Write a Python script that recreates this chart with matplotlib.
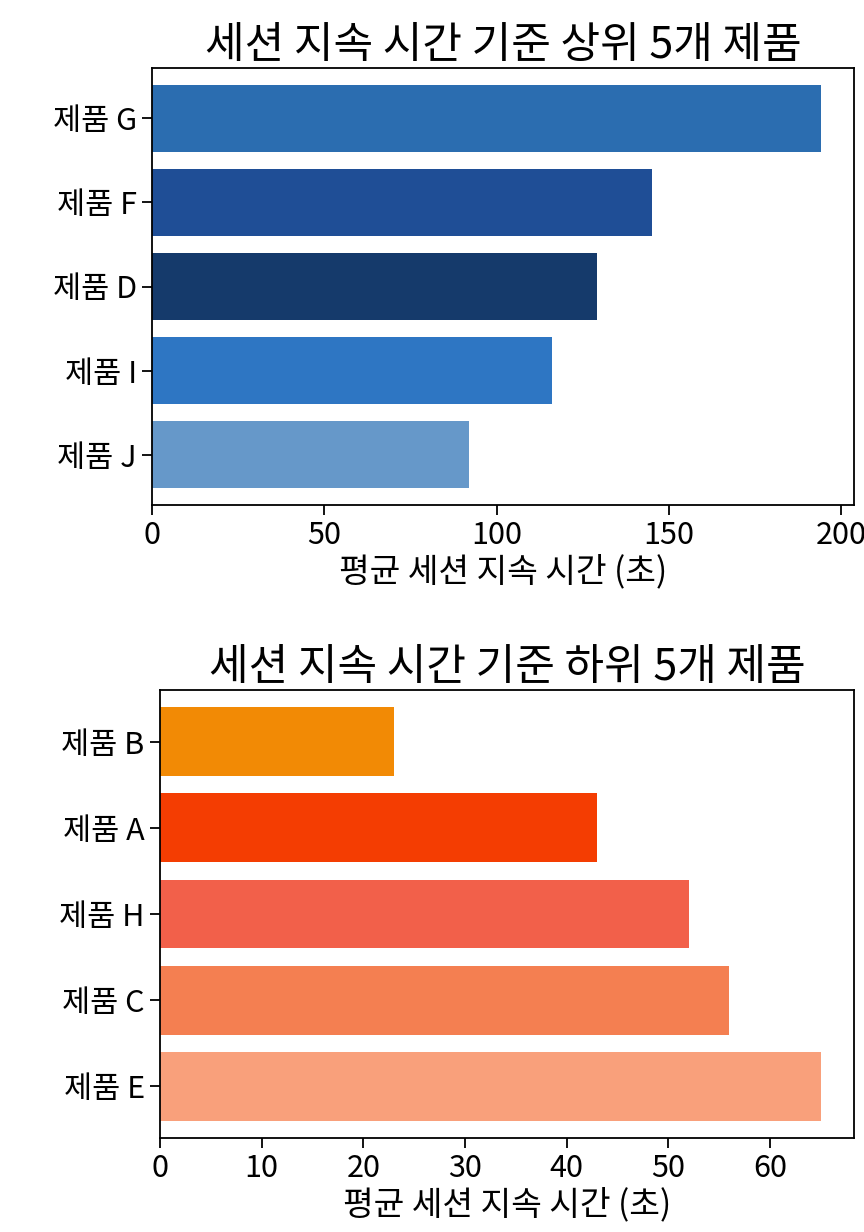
import matplotlib
matplotlib.use("Agg")
import matplotlib.pyplot as plt

plt.rcParams['font.family'] = ['Noto Sans CJK KR', 'DejaVu Sans']

top_products = ["제품 G", "제품 F", "제품 D", "제품 I", "제품 J"]
top_values = [194, 145, 129, 116, 92]
top_colors = ["#2b6db0", "#1f4e96", "#153a6b", "#2e76c3", "#6698c9"]

bottom_products = ["제품 B", "제품 A", "제품 H", "제품 C", "제품 E"]
bottom_values = [23, 43, 52, 56, 65]
bottom_colors = ["#f28a05", "#f43d02", "#f2604a", "#f47f51", "#f9a07b"]

top_title = "세션 지속 시간 기준 상위 5개 제품"
bottom_title = "세션 지속 시간 기준 하위 5개 제품"
xlabel = "평균 세션 지속 시간 (초)"

fig = plt.figure(figsize=(8.64, 12.32), dpi=100)
ax1 = fig.add_axes([152/864, 1 - 505/1232, (854-152)/864, (505-68)/1232])
ax2 = fig.add_axes([160/864, 1 - 1138/1232, (854-160)/864, (1138-690)/1232])

for ax, cats, vals, cols, title in [
    (ax1, top_products, top_values, top_colors, top_title),
    (ax2, bottom_products, bottom_values, bottom_colors, bottom_title),
]:
    ax.barh(cats, vals, color=cols, height=0.8)
    ax.set_ylim(4.6, -0.6)
    ax.set_title(title, fontsize=31, pad=6)
    ax.set_xlabel(xlabel, fontsize=24, labelpad=2)
    ax.tick_params(axis='both', labelsize=22, length=7, width=1.3, pad=4)
    for s in ax.spines.values():
        s.set_linewidth(1.3)

fig.savefig("out.png", dpi=100)
